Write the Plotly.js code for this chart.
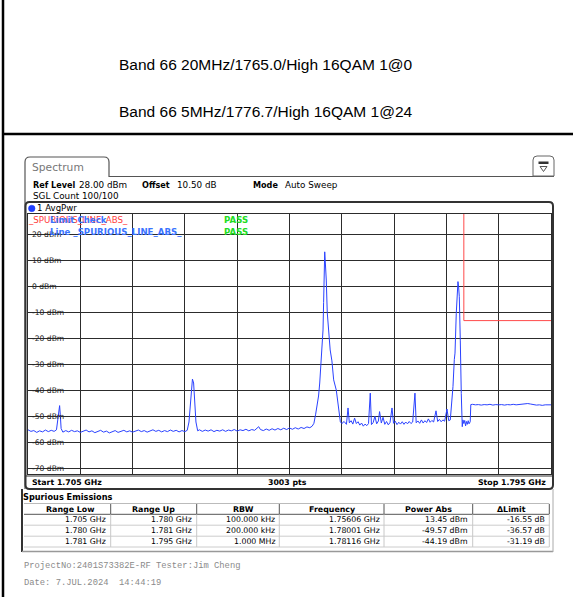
<!DOCTYPE html>
<html><head><meta charset="utf-8">
<script src="https://cdn.plot.ly/plotly-3.0.1.min.js"></script>
<style>html,body{margin:0;padding:0;background:#fff;}#chart{width:573px;height:597px;}</style>
</head><body><div id="chart"></div>
<script>
// ---------------- data ----------------
const titleLines = ['Band 66 20MHz/1765.0/High 16QAM 1@0', 'Band 66 5MHz/1776.7/High 16QAM 1@24'];
const xStartMHz = 1705, xStopMHz = 1795, xDivMHz = 9;
const refLevel = 28, bottomLevel = -72;
const yTickValues = [20, 10, 0, -10, -20, -30, -40, -50, -60, -70];
const yTickLabels = ['20 dBm', '10 dBm', '0 dBm', '-10 dBm', '-20 dBm', '-30 dBm', '-40 dBm', '-50 dBm', '-60 dBm', '-70 dBm'];

// AvgPwr trace: [frequency MHz, level dBm]
const avgPwrTrace = [
[1705.0,-55.0],[1705.5,-55.6],[1706.0,-55.3],[1706.5,-56.0],[1707.0,-55.4],[1707.5,-55.8],[1708.0,-55.1],[1708.5,-55.7],[1709.0,-55.2],[1709.5,-55.6],[1709.9,-55.0],
[1710.1,-51.0],[1710.3,-47.0],[1710.44,-45.7],[1710.55,-49.0],[1710.7,-54.5],
[1711.0,-55.9],[1711.5,-55.3],[1712.0,-55.8],[1712.5,-55.2],[1713.0,-55.7],[1713.5,-55.4],[1714.0,-56.0],[1714.5,-55.5],[1715.0,-55.1],[1715.5,-55.8],
[1716.0,-55.4],[1716.5,-56.1],[1717.0,-55.6],[1717.5,-55.2],[1718.0,-55.9],[1718.5,-55.5],[1719.0,-56.2],[1719.5,-55.7],[1720.0,-55.3],[1720.5,-56.0],
[1721.0,-55.6],[1721.5,-55.2],[1722.0,-55.8],[1722.5,-55.4],[1723.0,-55.9],[1723.5,-55.5],[1724.0,-55.1],[1724.5,-55.7],[1725.0,-55.3],[1725.5,-55.9],
[1726.0,-55.4],[1726.5,-55.0],[1727.0,-55.6],[1727.5,-55.2],[1728.0,-55.8],[1728.5,-55.3],[1729.0,-55.7],[1729.5,-55.1],[1730.0,-55.6],[1730.5,-55.2],
[1731.0,-55.8],[1731.5,-55.3],[1732.0,-55.7],[1732.4,-55.2],
[1732.7,-52.0],[1732.9,-45.0],[1733.1,-38.0],[1733.3,-35.5],[1733.5,-37.0],[1733.7,-44.0],[1733.9,-52.0],[1734.2,-55.4],
[1734.5,-55.0],[1735.0,-55.6],[1735.5,-55.1],[1736.0,-55.5],[1736.5,-55.0],[1737.0,-55.7],[1737.5,-55.2],[1738.0,-55.5],[1738.5,-55.0],[1739.0,-55.6],
[1739.5,-55.1],[1740.0,-55.4],[1740.5,-54.9],[1741.0,-55.5],[1741.5,-55.0],[1742.0,-55.3],[1742.5,-54.8],[1743.0,-55.4],[1743.5,-54.9],[1744.0,-55.2],
[1744.7,-53.8],[1745.0,-54.9],[1745.5,-55.3],[1746.0,-54.7],[1746.5,-55.2],[1747.0,-54.6],[1747.5,-55.1],[1748.0,-54.5],[1748.5,-55.0],[1749.0,-54.4],
[1749.5,-54.9],[1750.0,-54.3],[1750.5,-54.8],[1751.0,-54.2],[1751.5,-54.7],[1752.0,-54.1],[1752.5,-54.5],[1753.0,-53.9],[1753.5,-54.2],[1753.9,-53.6],
[1754.2,-52.5],[1754.5,-49.0],[1754.75,-46.0],[1755.0,-42.0],[1755.2,-37.0],[1755.4,-30.0],[1755.6,-22.0],[1755.77,-16.6],[1755.87,-6.0],[1755.97,3.0],
[1756.06,13.45],[1756.2,8.0],[1756.33,2.6],[1756.5,-10.0],[1756.8,-20.5],[1757.0,-24.3],[1757.3,-28.5],[1757.6,-35.8],[1758.05,-39.7],[1758.45,-47.4],[1758.75,-51.9],
[1759.0,-52.6],[1759.4,-51.8],[1759.8,-52.9],[1760.07,-46.6],[1760.3,-52.3],[1760.6,-51.5],[1760.9,-52.8],[1761.2,-50.5],[1761.5,-52.6],[1761.8,-51.9],
[1762.1,-53.2],[1762.4,-52.4],[1762.7,-53.6],[1763.0,-52.8],[1763.3,-53.4],[1763.6,-52.6],[1763.9,-40.9],[1764.1,-53.0],[1764.4,-52.2],[1764.7,-49.8],
[1765.0,-52.7],[1765.3,-51.6],[1765.5,-48.0],[1765.8,-52.4],[1766.1,-50.2],[1766.4,-52.9],[1766.7,-51.8],[1767.0,-53.1],[1767.3,-52.2],[1767.64,-46.6],
[1767.9,-52.5],[1768.2,-51.7],[1768.5,-53.0],[1768.8,-52.1],[1769.1,-52.8],[1769.4,-51.9],[1769.7,-52.9],[1770.0,-52.0],[1770.3,-52.7],[1770.6,-51.8],
[1770.9,-52.6],[1771.2,-52.0],[1771.59,-40.9],[1771.8,-52.3],[1772.1,-51.6],[1772.4,-52.5],[1772.7,-51.2],[1773.0,-52.4],[1773.3,-51.5],[1773.6,-52.2],
[1773.9,-50.8],[1774.2,-52.1],[1774.5,-51.4],[1774.8,-52.0],[1775.21,-47.7],[1775.5,-51.8],[1775.8,-51.0],[1776.1,-51.9],[1776.4,-51.2],[1776.7,-51.7],
[1777.1,-47.0],[1777.4,-51.5],[1777.67,-51.2],[1778.13,-38.4],[1778.36,-28.0],[1778.48,-25.5],[1778.7,-10.2],[1778.87,1.3],[1778.99,2.0],[1779.1,0.0],
[1779.22,-3.8],[1779.39,-20.5],[1779.44,-30.7],[1779.56,-41.0],[1779.73,-53.8],[1779.85,-51.2],[1780.0,-52.6],[1780.15,-51.4],[1780.3,-53.5],[1780.45,-51.8],
[1780.6,-52.9],[1780.75,-51.5],[1780.9,-52.7],[1781.1,-51.9],[1781.2,-45.3],
[1781.5,-45.2],[1782.0,-45.4],[1782.5,-45.3],[1783.0,-45.5],[1783.5,-45.3],[1784.0,-45.4],[1784.5,-45.2],[1785.0,-45.5],[1785.5,-45.3],[1786.0,-45.4],
[1786.5,-45.3],[1787.0,-45.5],[1787.5,-45.3],[1788.0,-45.4],[1788.5,-45.2],[1789.0,-45.4],[1789.5,-45.3],[1790.0,-45.2],[1790.5,-45.0],[1791.0,-44.9],
[1791.5,-45.1],[1792.0,-45.4],[1792.5,-45.5],[1793.0,-45.4],[1793.5,-45.6],[1794.0,-45.4],[1794.5,-45.5],[1795.0,-45.4]
];

// limit line _SPURIOUS_LINE_ABS_
const limitFreq = [1705, 1780, 1780, 1795];
const limitLevel = [30, 30, -13, -13];

// Spurious emissions table
const tableHeaders = ['Range Low', 'Range Up', 'RBW', 'Frequency', 'Power Abs', '\u0394Limit'];
const rangeLow = ['1.705 GHz', '1.780 GHz', '1.781 GHz'];
const rangeUp = ['1.780 GHz', '1.781 GHz', '1.795 GHz'];
const rbw = ['100.000 kHz', '200.000 kHz', '1.000 MHz'];
const peakFreq = ['1.75606 GHz', '1.78001 GHz', '1.78116 GHz'];
const powerAbs = ['13.45 dBm', '-49.57 dBm', '-44.19 dBm'];
const deltaLimit = ['-16.55 dB', '-36.57 dB', '-31.19 dB'];

const headerInfo = {refLevel: '28.00 dBm', offset: '10.50 dB', mode: 'Auto Sweep', count: 'SGL Count 100/100'};
const footerLines = ['ProjectNo:2401S73382E-RF Tester:Jim Cheng', 'Date: 7.JUL.2024  14:44:19'];

// ---------------- layout helpers ----------------
const L = 28, T = 214, W = 523, H = 260;
const px = x => (x - L) / W;
const py = y => (T + H - y) / H;
const ann = [];
const shapes = [];
function addText(text, x, y, size, o = {}) {
  ann.push({xref: 'paper', yref: 'paper', x: px(x), y: py(y), text: text, showarrow: false,
    xanchor: o.anchor || 'left', yanchor: 'middle', borderpad: 0, borderwidth: 0,
    font: {family: o.family || 'DejaVu Sans', size: size, color: o.color || '#000', weight: o.bold ? 'bold' : 'normal'}});
}
function addLine(x0, y0, x1, y1, color, width) {
  shapes.push({type: 'line', xref: 'paper', yref: 'paper', x0: px(x0), y0: py(y0), x1: px(x1), y1: py(y1),
    line: {color: color, width: width}});
}
function addPath(pts, color, width, fill) {
  const d = pts.map(p => {
    const coords = [];
    for (let i = 1; i < p.length; i += 2) coords.push(px(p[i]) + ',' + py(p[i + 1]));
    return p[0] + (coords.length ? ' ' + coords.join(' ') : '');
  }).join(' ');
  shapes.push({type: 'path', xref: 'paper', yref: 'paper', path: d, line: {color: color, width: width}, fillcolor: fill || 'rgba(0,0,0,0)'});
}

// page frame
addLine(3, 0, 3, 597, '#000', 2.5);
addLine(3, 134, 573, 134, '#000', 2.5);
// titles
addText(titleLines[0], 266, 64, 15.5, {anchor: 'center', family: 'Liberation Sans'});
addText(titleLines[1], 266, 111.5, 15.5, {anchor: 'center', family: 'Liberation Sans'});

// Spectrum tab
addPath([['M', 25, 489], ['L', 25, 162], ['Q', 25, 157, 30, 157], ['L', 104, 157], ['Q', 109, 157, 109, 162], ['L', 109, 176.5], ['L', 554, 176.5]], '#555', 1.2);
addText('Spectrum', 31.5, 167, 10.7, {color: '#777'});
// icon
addPath([['M', 533, 160], ['Q', 533, 156, 537, 156], ['L', 550, 156], ['Q', 554, 156, 554, 160], ['L', 554, 176], ['L', 533, 176], ['Z']], '#666', 1, '#fff');
shapes.push({type: 'rect', xref: 'paper', yref: 'paper', x0: px(538.5), x1: px(548.5), y0: py(164), y1: py(161.5), line: {width: 0}, fillcolor: '#333'});
addPath([['M', 540, 166.5], ['L', 547, 166.5], ['L', 543.5, 171.5], ['Z']], '#555', 1);

// header
addText('Ref Level', 33, 184.5, 8.1, {bold: true});
addText(headerInfo.refLevel, 78.5, 184.5, 8.8);
addText('Offset', 141.5, 184.5, 8.1, {bold: true});
addText(headerInfo.offset, 177, 184.5, 8.8);
addText('Mode', 253, 184.5, 8.1, {bold: true});
addText(headerInfo.mode, 285, 184.5, 8.8);
addText(headerInfo.count, 33, 195.5, 8.8);

// plot frame (rounded)
addPath([['M', 29.5, 202], ['L', 549, 202], ['Q', 553, 202, 553, 206], ['L', 553, 485], ['Q', 553, 489, 549, 489], ['L', 29.5, 489], ['Q', 25.5, 489, 25.5, 485], ['L', 25.5, 206], ['Q', 25.5, 202, 29.5, 202], ['Z']], '#333', 2);
// trace label row
shapes.push({type: 'circle', xref: 'paper', yref: 'paper', x0: px(28.5), x1: px(35), y0: py(205.2), y1: py(211.7), line: {color: '#1030ff', width: 0.5}, fillcolor: '#1f3fff'});
addText('1 AvgPwr', 36.5, 208.3, 8.6);

// y-axis labels drawn inside the grid, with masks behind them
const ctx = document.createElement('canvas').getContext('2d');
ctx.font = '7.6px "DejaVu Sans"';
yTickValues.forEach((v, i) => {
  const w = ctx.measureText(yTickLabels[i]).width;
  shapes.push({type: 'rect', xref: 'paper', yref: 'y', x0: 0, x1: px(31.5 + w + 1), y0: v - 1.6, y1: v + 1.6,
    line: {width: 0}, fillcolor: '#fff', layer: 'between'});
  ann.push({xref: 'paper', yref: 'y', x: px(31.5), y: v, text: yTickLabels[i], showarrow: false, xanchor: 'left', yanchor: 'middle',
    borderpad: 0, borderwidth: 0, font: {family: 'DejaVu Sans', size: 7.6, color: '#222'}});
});

// limit check legend (overlapping, as on the instrument screen)
addText('_SPURIOUS_LINE_ABS_', 28, 220, 8.7, {color: '#ff3c3c'});
addText('Limit Check', 49.5, 220, 8.6, {color: '#3a74ff', bold: true});
addText('PASS', 224, 220, 8.6, {color: '#22dd22', bold: true});
addText('Line _SPURIOUS_LINE_ABS_', 49.5, 231.7, 8.6, {color: '#3a74ff', bold: true});
addText('PASS', 224, 231.7, 8.6, {color: '#22dd22', bold: true});

// bottom strip
addLine(25.5, 476, 553, 476, '#333', 1);
addText('Start ' + (xStartMHz / 1000).toFixed(3) + ' GHz', 31.5, 482.7, 7.8, {bold: true});
addText('3003 pts', 287, 482.7, 7.8, {bold: true, anchor: 'center'});
addText('Stop ' + (xStopMHz / 1000).toFixed(3) + ' GHz', 545.5, 482.7, 7.8, {bold: true, anchor: 'right'});

// table
addLine(22, 489, 22, 552, '#333', 2);
addLine(22, 551.5, 553, 551.5, '#999', 1.5);
addLine(553, 489, 553, 552, '#aaa', 1);
addText('Spurious Emissions', 22.5, 497, 8.2, {bold: true});
const colEdges = [24, 110.7, 196.7, 279.3, 384, 472.7, 549.3];
const headerCenters = [70, 153.3, 243, 331.7, 428.3, 511.7];
const rowY = [519.7, 530.7, 541.7];
addLine(24, 503.5, 549.3, 503.5, '#bbb', 1);
addLine(24, 514.3, 549.3, 514.3, '#555', 1);
[525.2, 536.2, 547].forEach(y => addLine(24, y, 549.3, y, '#ccc', 1));
colEdges.slice(1).forEach(x => { addLine(x, 504, x, 514, '#555', 1); addLine(x, 514.5, x, 547, '#c8c8c8', 1); });
tableHeaders.forEach((h, i) => addText(h, headerCenters[i], 509, 7.9, {bold: true, anchor: 'center'}));
const cols = [rangeLow, rangeUp, rbw, peakFreq, powerAbs, deltaLimit];
cols.forEach((col, ci) => col.forEach((val, ri) => addText(val, colEdges[ci + 1] - 4.5, rowY[ri], 7.8, {anchor: 'right'})));

// footer
addText(footerLines[0], 24, 565.5, 8.8, {family: 'Liberation Mono', color: '#8a8a8a'});
addText(footerLines[1], 24, 582.5, 8.8, {family: 'Liberation Mono', color: '#8a8a8a'});

// ---------------- traces ----------------
const traces = [
  {x: limitFreq, y: limitLevel, type: 'scatter', mode: 'lines', line: {color: '#ff4a4a', width: 1}, hoverinfo: 'skip'},
  {x: avgPwrTrace.map(p => p[0]), y: avgPwrTrace.map(p => p[1]), type: 'scatter', mode: 'lines', line: {color: '#2a42ff', width: 1}}
];

const layout = {
  width: 573, height: 597,
  margin: {l: L, r: 573 - L - W, t: T, b: 597 - T - H, pad: 0},
  paper_bgcolor: '#fff', plot_bgcolor: '#fff',
  showlegend: false,
  xaxis: {range: [xStartMHz, xStopMHz], tick0: xStartMHz, dtick: xDivMHz, showticklabels: false, ticks: '',
    showgrid: true, gridcolor: '#2c2c2c', gridwidth: 1, zeroline: false, showline: true, mirror: true, linecolor: '#2c2c2c', linewidth: 1},
  yaxis: {range: [bottomLevel, refLevel], tick0: 0, dtick: 10, showticklabels: false, ticks: '',
    showgrid: true, gridcolor: '#2c2c2c', gridwidth: 1, zeroline: false, showline: true, mirror: true, linecolor: '#2c2c2c', linewidth: 1},
  shapes: shapes,
  annotations: ann
};
Plotly.newPlot('chart', traces, layout, {staticPlot: true, displayModeBar: false});
</script>
</body></html>
